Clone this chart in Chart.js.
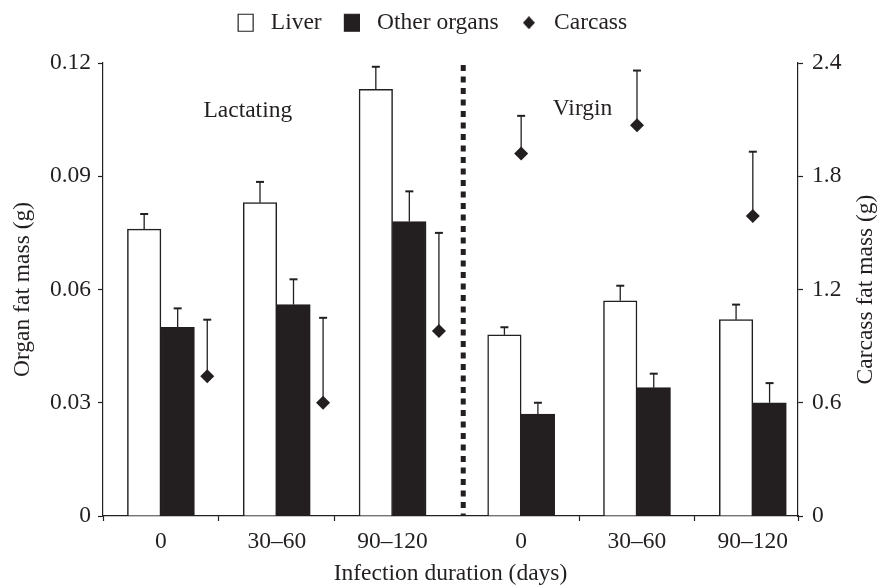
<!DOCTYPE html>
<html>
<head>
<meta charset="utf-8">
<script src="https://cdn.jsdelivr.net/npm/chart.js@4/dist/chart.umd.min.js"></script>
<style>
  html, body { margin: 0; padding: 0; background: #fff; }
  canvas { display: block; }
</style>
</head>
<body>
<canvas id="chart" width="877" height="588"></canvas>
<script>
// infection duration per group: first three lactating, last three virgin
const durations = ["0", "30–60", "90–120", "0", "30–60", "90–120"];
const groupNames = ["Lactating", "Virgin"];

// organ fat mass (g), left axis
const liverMass = [0.076, 0.083, 0.113, 0.048, 0.057, 0.052];
const liverSe = [0.004, 0.0055, 0.006, 0.002, 0.004, 0.004];
const otherMass = [0.050, 0.056, 0.078, 0.027, 0.034, 0.030];
const otherSe = [0.005, 0.0067, 0.008, 0.003, 0.0037, 0.0052];

// carcass fat mass (g), right axis
const carcassMass = [0.74, 0.60, 0.98, 1.92, 2.07, 1.59];
const carcassSe = [0.30, 0.45, 0.52, 0.20, 0.29, 0.34];

const organTicks = [0, 0.03, 0.06, 0.09, 0.12];
const organTickLabels = ["0", "0.03", "0.06", "0.09", "0.12"];
const carcassTicks = [0, 0.6, 1.2, 1.8, 2.4];
const carcassTickLabels = ["0", "0.6", "1.2", "1.8", "2.4"];

const INK = "#231f20";
const SERIF = "'Liberation Serif', 'Times New Roman', serif";
const FONT_SIZE = 23.5;

// the virgin half is pushed right a little to make room for the divider
const VIRGIN_SHIFT = 0.11;
// lactating carcass markers sit just right of the bar pair
const CARCASS_OFFSET = 0.4;

function isLactating(i) {
  return i < 3;
}

function slotX(i) {
  return i + 0.5 + (isLactating(i) ? 0 : VIRGIN_SHIFT);
}

function carcassX(i) {
  return slotX(i) + (isLactating(i) ? CARCASS_OFFSET : 0);
}

function diamondMarker(w, h) {
  const c = document.createElement("canvas");
  c.width = w;
  c.height = h;
  const g = c.getContext("2d");
  g.fillStyle = INK;
  g.beginPath();
  g.moveTo(w / 2, 0);
  g.lineTo(w, h / 2);
  g.lineTo(w / 2, h);
  g.lineTo(0, h / 2);
  g.closePath();
  g.fill();
  return c;
}

Chart.defaults.font.family = SERIF;
Chart.defaults.font.size = FONT_SIZE;
Chart.defaults.color = INK;

const errorBars = {
  id: "errorBars",
  beforeDatasetsDraw(chart) {
    const ctx = chart.ctx;
    ctx.save();
    ctx.strokeStyle = INK;
    chart.data.datasets.forEach((ds, di) => {
      const meta = chart.getDatasetMeta(di);
      const scale = chart.scales[meta.yAxisID];
      meta.data.forEach((el, i) => {
        const top = scale.getPixelForValue(ds.data[i].y + ds.errors[i]);
        ctx.lineWidth = 1.3;
        ctx.beginPath();
        ctx.moveTo(el.x, el.y);
        ctx.lineTo(el.x, top);
        ctx.stroke();
        ctx.lineWidth = 2;
        ctx.beginPath();
        ctx.moveTo(el.x - 4, top);
        ctx.lineTo(el.x + 4, top);
        ctx.stroke();
      });
    });
    ctx.restore();
  },
};

const groupMarks = {
  id: "groupMarks",
  afterDraw(chart) {
    const { ctx, chartArea } = chart;
    const x = chart.scales.x;
    const y = chart.scales.y;
    const y2 = chart.scales.y2;
    ctx.save();

    // dotted divider between lactating and virgin
    const divX = x.getPixelForValue(3 + VIRGIN_SHIFT);
    ctx.strokeStyle = INK;
    ctx.lineWidth = 5;
    ctx.setLineDash([6, 5.5]);
    ctx.beginPath();
    ctx.moveTo(divX, chartArea.top + 2);
    ctx.lineTo(divX, chartArea.bottom);
    ctx.stroke();
    ctx.setLineDash([]);

    ctx.fillStyle = INK;
    ctx.font = `${FONT_SIZE}px ${SERIF}`;
    ctx.textAlign = "center";
    ctx.textBaseline = "middle";
    ctx.fillText(groupNames[0], x.getPixelForValue(1.25), y.getPixelForValue(0.1073));
    ctx.fillText(groupNames[1], x.getPixelForValue(4.14), y.getPixelForValue(0.1078));

    // right axis title reads bottom-to-top like the left one
    ctx.translate(y2.right - 11, (chartArea.top + chartArea.bottom) / 2);
    ctx.rotate(-Math.PI / 2);
    ctx.fillText("Carcass fat mass (g)", 0, 0);
    ctx.restore();
  },
};

const boundaryTicks = [0, 1, 2, 4 + VIRGIN_SHIFT, 5 + VIRGIN_SHIFT, 6];

const chart = new Chart(document.getElementById("chart"), {
  type: "bar",
  data: {
    datasets: [
      {
        label: "Liver",
        data: liverMass.map((v, i) => ({ x: slotX(i), y: v })),
        errors: liverSe,
        backgroundColor: "#ffffff",
        borderColor: INK,
        borderWidth: 1.5,
        yAxisID: "y",
      },
      {
        label: "Other organs",
        data: otherMass.map((v, i) => ({ x: slotX(i), y: v })),
        errors: otherSe,
        backgroundColor: INK,
        borderColor: INK,
        borderWidth: 1.5,
        yAxisID: "y",
      },
      {
        type: "scatter",
        label: "Carcass",
        data: carcassMass.map((v, i) => ({ x: carcassX(i), y: v })),
        errors: carcassSe,
        pointStyle: "rectRot",
        pointRadius: 7,
        backgroundColor: INK,
        borderColor: INK,
        borderWidth: 0,
        yAxisID: "y2",
      },
    ],
  },
  options: {
    responsive: false,
    animation: false,
    events: [],
    layout: { padding: 0 },
    datasets: {
      bar: { barThickness: 33.5 },
    },
    plugins: {
      tooltip: { enabled: false },
      legend: {
        position: "top",
        weight: 1000,
        labels: {
          usePointStyle: true,
          pointStyleWidth: 15,
          boxHeight: 17,
          padding: 11,
          color: INK,
          generateLabels(chart) {
            const items = Chart.defaults.plugins.legend.labels.generateLabels(chart);
            items.forEach((item) => {
              item.pointStyle = item.datasetIndex === 2 ? diamondMarker(12, 13) : "rect";
              item.lineWidth = 1.2;
              item.text = " " + item.text + "  ";
            });
            return items;
          },
        },
      },
      // empty title used as a spacer between legend and plot
      title: {
        display: true,
        text: "",
        weight: 500,
        font: { size: 10 },
        padding: { top: 0, bottom: 6.5 },
      },
    },
    scales: {
      x: {
        type: "linear",
        min: 0,
        max: 6,
        offset: false,
        afterBuildTicks(scale) {
          const ticks = boundaryTicks.map((v) => ({ value: v }));
          durations.forEach((d, i) => ticks.push({ value: slotX(i), cat: d }));
          ticks.sort((a, b) => a.value - b.value);
          scale.ticks = ticks;
        },
        afterFit(scale) {
          scale.height = 72;
        },
        ticks: {
          autoSkip: false,
          maxRotation: 0,
          padding: 7,
          color: INK,
          callback(value, index, ticks) {
            return ticks[index].cat !== undefined ? ticks[index].cat : "";
          },
        },
        grid: {
          drawOnChartArea: false,
          offset: false,
          tickLength: 5,
          tickWidth: 1.2,
          tickColor: (ctx) => (ctx.tick && ctx.tick.cat !== undefined ? "rgba(0,0,0,0)" : INK),
        },
        border: { color: INK, width: 1.2 },
        title: {
          display: true,
          text: "Infection duration (days)",
          color: INK,
          padding: { top: 0, bottom: 0 },
        },
      },
      y: {
        position: "left",
        min: 0,
        max: 0.12,
        afterBuildTicks(scale) {
          scale.ticks = organTicks.map((v) => ({ value: v }));
        },
        afterFit(scale) {
          scale.width = 103;
        },
        ticks: {
          padding: 7,
          color: INK,
          callback(value, index) {
            return organTickLabels[index];
          },
        },
        grid: { drawOnChartArea: false, tickLength: 5, tickWidth: 1.2, tickColor: INK },
        border: { color: INK, width: 1.2 },
        title: {
          display: true,
          text: "Organ fat mass (g)",
          color: INK,
          padding: { top: 9, bottom: 0 },
        },
      },
      y2: {
        position: "right",
        min: 0,
        max: 2.4,
        afterBuildTicks(scale) {
          scale.ticks = carcassTicks.map((v) => ({ value: v }));
        },
        afterFit(scale) {
          scale.width = 79;
        },
        ticks: {
          padding: 9,
          color: INK,
          callback(value, index) {
            return carcassTickLabels[index];
          },
        },
        grid: { drawOnChartArea: false, tickLength: 5, tickWidth: 1.2, tickColor: INK },
        border: { color: INK, width: 1.2 },
      },
    },
  },
  plugins: [errorBars, groupMarks],
});
</script>
</body>
</html>
